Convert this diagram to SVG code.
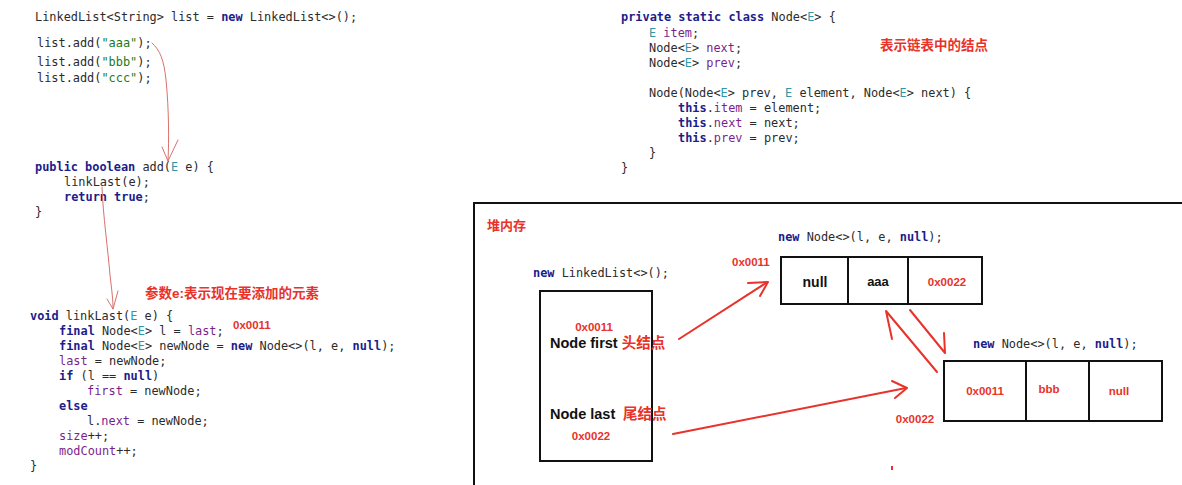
<svg xmlns="http://www.w3.org/2000/svg" width="1182" height="485" viewBox="0 0 1182 485">
<style>
.code{font-family:"DejaVu Sans Mono","Liberation Mono",monospace;font-size:11.9px;fill:#2b2b2b}
.kw{fill:#1c1c8a;font-weight:bold}
.fd{fill:#7b1f8c}
.tp{fill:#2f97a8}
.st{fill:#1a7a1a}
.cn{font-family:"Liberation Sans","Noto Sans CJK SC",sans-serif;font-weight:bold;fill:#e8322a}
.lbl{font-family:"Liberation Sans","Noto Sans CJK SC",sans-serif;font-weight:bold;fill:#111}
.addr{font-family:"Liberation Sans","Noto Sans CJK SC",sans-serif;font-weight:bold;fill:#e8322a;font-size:11.5px}
.box{fill:#fff;stroke:#111;stroke-width:2}
.div{stroke:#111;stroke-width:2}
.red{fill:none;stroke:#e8322a;stroke-width:2;stroke-linecap:round;stroke-linejoin:round}
.pen{fill:none;stroke:#d9706e;stroke-width:1;stroke-linecap:round}
</style>
<rect width="1182" height="485" fill="#fff"/>

<g id="code-main">
<text class="code" x="35" y="21">LinkedList&lt;String&gt; list = <tspan class="kw">new</tspan> LinkedList&lt;&gt;();</text>
<text class="code" x="37" y="47">list.add(<tspan class="st">"aaa"</tspan>);</text>
<text class="code" x="37" y="66">list.add(<tspan class="st">"bbb"</tspan>);</text>
<text class="code" x="37" y="82">list.add(<tspan class="st">"ccc"</tspan>);</text>
</g>

<g id="code-add">
<text class="code" x="35" y="171"><tspan class="kw">public boolean</tspan> add(<tspan class="tp">E</tspan> e) {</text>
<text class="code" x="64" y="186">linkLast(e);</text>
<text class="code" x="64" y="201"><tspan class="kw">return true</tspan>;</text>
<text class="code" x="35" y="216">}</text>
</g>

<g id="code-linklast">
<text class="cn" x="145" y="298" font-size="13.5">参数e:表示现在要添加的元素</text>
<text class="code" x="30" y="320"><tspan class="kw">void</tspan> linkLast(<tspan class="tp">E</tspan> e) {</text>
<text class="code" x="59" y="335"><tspan class="kw">final</tspan> Node&lt;<tspan class="tp">E</tspan>&gt; l = <tspan class="fd">last</tspan>;</text>
<text class="addr" x="233" y="329">0x0011</text>
<text class="code" x="59" y="350"><tspan class="kw">final</tspan> Node&lt;<tspan class="tp">E</tspan>&gt; newNode = <tspan class="kw">new</tspan> Node&lt;&gt;(l, e, <tspan class="kw">null</tspan>);</text>
<text class="code" x="59" y="365"><tspan class="fd">last</tspan> = newNode;</text>
<text class="code" x="59" y="380"><tspan class="kw">if</tspan> (l == <tspan class="kw">null</tspan>)</text>
<text class="code" x="87" y="395"><tspan class="fd">first</tspan> = newNode;</text>
<text class="code" x="59" y="410"><tspan class="kw">else</tspan></text>
<text class="code" x="87" y="425">l.<tspan class="fd">next</tspan> = newNode;</text>
<text class="code" x="59" y="440"><tspan class="fd">size</tspan>++;</text>
<text class="code" x="59" y="455"><tspan class="fd">modCount</tspan>++;</text>
<text class="code" x="30" y="470">}</text>
</g>

<g id="code-node">
<text class="code" x="621" y="21"><tspan class="kw">private static class</tspan> Node&lt;<tspan class="tp">E</tspan>&gt; {</text>
<text class="code" x="649" y="37"><tspan class="tp">E</tspan> <tspan class="fd">item</tspan>;</text>
<text class="code" x="649" y="52">Node&lt;<tspan class="tp">E</tspan>&gt; <tspan class="fd">next</tspan>;</text>
<text class="code" x="649" y="67">Node&lt;<tspan class="tp">E</tspan>&gt; <tspan class="fd">prev</tspan>;</text>
<text class="code" x="649" y="97">Node(Node&lt;<tspan class="tp">E</tspan>&gt; prev, <tspan class="tp">E</tspan> element, Node&lt;<tspan class="tp">E</tspan>&gt; next) {</text>
<text class="code" x="678" y="112"><tspan class="kw">this</tspan>.<tspan class="fd">item</tspan> = element;</text>
<text class="code" x="678" y="127"><tspan class="kw">this</tspan>.<tspan class="fd">next</tspan> = next;</text>
<text class="code" x="678" y="142"><tspan class="kw">this</tspan>.<tspan class="fd">prev</tspan> = prev;</text>
<text class="code" x="649" y="157">}</text>
<text class="code" x="621" y="172">}</text>
<text class="cn" x="880" y="50" font-size="13.5">表示链表中的结点</text>
</g>

<g id="heap">
<path d="M474,485 V203 H1182" fill="none" stroke="#111" stroke-width="2"/>
<text class="cn" x="487" y="230" font-size="13">堆内存</text>
</g>

<g id="linkedlist">
<text class="code" x="533" y="277"><tspan class="kw">new</tspan> LinkedList&lt;&gt;();</text>
<rect class="box" x="540" y="291" width="112" height="170"/>
<text class="addr" x="594" y="331" text-anchor="middle">0x0011</text>
<text class="lbl" x="550" y="348" font-size="14.5">Node first <tspan fill="#e8322a">头结点</tspan></text>
<text class="lbl" x="550" y="419" font-size="14.5">Node last  <tspan x="623" fill="#e8322a">尾结点</tspan></text>
<text class="addr" x="591" y="440" text-anchor="middle">0x0022</text>
</g>

<g id="node1">
<text class="code" x="778" y="241"><tspan class="kw">new</tspan> Node&lt;&gt;(l, e, <tspan class="kw">null</tspan>);</text>
<text class="addr" x="732" y="266">0x0011</text>
<rect class="box" x="781" y="257" width="201" height="47"/>
<line class="div" x1="848" y1="257" x2="848" y2="304"/>
<line class="div" x1="908" y1="257" x2="908" y2="304"/>
<text class="lbl" x="815" y="287" font-size="14" text-anchor="middle">null</text>
<text class="lbl" x="878" y="286" font-size="13" text-anchor="middle">aaa</text>
<text class="addr" x="947" y="286" text-anchor="middle">0x0022</text>
</g>

<g id="node2">
<text class="code" x="973" y="348"><tspan class="kw">new</tspan> Node&lt;&gt;(l, e, <tspan class="kw">null</tspan>);</text>
<rect class="box" x="944" y="361" width="218" height="60"/>
<line class="div" x1="1026" y1="361" x2="1026" y2="421"/>
<line class="div" x1="1089" y1="361" x2="1089" y2="421"/>
<text class="addr" x="985" y="395" text-anchor="middle">0x0011</text>
<text class="addr" x="1049" y="393" text-anchor="middle">bbb</text>
<text class="addr" x="1119" y="395" text-anchor="middle">null</text>
<text class="addr" x="915" y="423" text-anchor="middle">0x0022</text>
</g>

<g id="connectors">
<path class="pen" d="M152,43 C160,50 164,60 166,80 C169,110 169,140 168,161"/>
<path class="pen" d="M162,147 L168,161 L178,140"/>
<path class="pen" d="M102,187 C103,215 108,250 110,275 C112,292 113,300 113,309"/>
<path class="pen" d="M107,299 L113,309 L118,291"/>
<path class="red" d="M679,339 L766,283"/>
<path class="red" d="M748,283 L768,282 L760,296"/>
<path class="red" d="M673,434 L906,388"/>
<path class="red" d="M892,381 L907,388 L895,398"/>
<path class="red" d="M937,372 L886,311 L892,339"/>
<path class="red" d="M910,310 L945,353 L944,333"/>
<rect x="891" y="466" width="2" height="4" fill="#e8322a"/>
</g>
</svg>
